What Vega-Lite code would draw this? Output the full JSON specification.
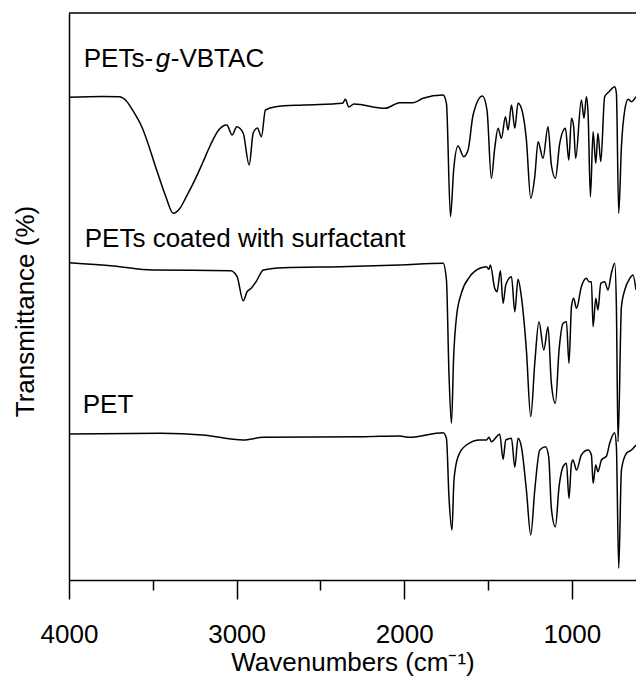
{
"$schema": "https://vega.github.io/schema/vega-lite/v6.json",
"width": 567, "height": 567,
"autosize": "none",
"padding": {"left": 69, "top": 13, "right": 0, "bottom": 97},
"config": {"view": {"stroke": null}, "font": "Liberation Sans"},
"datasets": {
"spectra": [
{"series":"PETs-g-VBTAC","wn":4000,"t":482.7},{"series":"PETs-g-VBTAC","wn":3800,"t":483.5},{"series":"PETs-g-VBTAC","wn":3699,"t":483.3},{"series":"PETs-g-VBTAC","wn":3663,"t":480},{"series":"PETs-g-VBTAC","wn":3615,"t":468.3},{"series":"PETs-g-VBTAC","wn":3566,"t":453.3},{"series":"PETs-g-VBTAC","wn":3471,"t":407},{"series":"PETs-g-VBTAC","wn":3422,"t":383.3},{"series":"PETs-g-VBTAC","wn":3378,"t":366.7},{"series":"PETs-g-VBTAC","wn":3337,"t":372},{"series":"PETs-g-VBTAC","wn":3300,"t":383.3},{"series":"PETs-g-VBTAC","wn":3254,"t":398.3},{"series":"PETs-g-VBTAC","wn":3203,"t":417},{"series":"PETs-g-VBTAC","wn":3156,"t":435},{"series":"PETs-g-VBTAC","wn":3107,"t":450},{"series":"PETs-g-VBTAC","wn":3059,"t":455},{"series":"PETs-g-VBTAC","wn":3026,"t":445},{"series":"PETs-g-VBTAC","wn":2999,"t":453.3},{"series":"PETs-g-VBTAC","wn":2961,"t":447},{"series":"PETs-g-VBTAC","wn":2925,"t":415},{"series":"PETs-g-VBTAC","wn":2901,"t":447},{"series":"PETs-g-VBTAC","wn":2876,"t":452},{"series":"PETs-g-VBTAC","wn":2852,"t":443.3},{"series":"PETs-g-VBTAC","wn":2828,"t":470},{"series":"PETs-g-VBTAC","wn":2767,"t":473.3},{"series":"PETs-g-VBTAC","wn":2600,"t":475},{"series":"PETs-g-VBTAC","wn":2368,"t":476.7},{"series":"PETs-g-VBTAC","wn":2351,"t":480.7},{"series":"PETs-g-VBTAC","wn":2331,"t":473},{"series":"PETs-g-VBTAC","wn":2300,"t":476},{"series":"PETs-g-VBTAC","wn":2114,"t":471.7},{"series":"PETs-g-VBTAC","wn":2027,"t":477.3},{"series":"PETs-g-VBTAC","wn":1947,"t":477.3},{"series":"PETs-g-VBTAC","wn":1888,"t":481.7},{"series":"PETs-g-VBTAC","wn":1768,"t":485},{"series":"PETs-g-VBTAC","wn":1748,"t":476.7},{"series":"PETs-g-VBTAC","wn":1724,"t":363.3},{"series":"PETs-g-VBTAC","wn":1705,"t":410},{"series":"PETs-g-VBTAC","wn":1679,"t":434},{"series":"PETs-g-VBTAC","wn":1645,"t":423.3},{"series":"PETs-g-VBTAC","wn":1619,"t":430},{"series":"PETs-g-VBTAC","wn":1589,"t":465},{"series":"PETs-g-VBTAC","wn":1533,"t":484},{"series":"PETs-g-VBTAC","wn":1506,"t":470},{"series":"PETs-g-VBTAC","wn":1480,"t":401.7},{"series":"PETs-g-VBTAC","wn":1460,"t":431.7},{"series":"PETs-g-VBTAC","wn":1440,"t":451.7},{"series":"PETs-g-VBTAC","wn":1420,"t":441.7},{"series":"PETs-g-VBTAC","wn":1396,"t":463.3},{"series":"PETs-g-VBTAC","wn":1380,"t":450},{"series":"PETs-g-VBTAC","wn":1360,"t":475},{"series":"PETs-g-VBTAC","wn":1340,"t":451.7},{"series":"PETs-g-VBTAC","wn":1321,"t":476.7},{"series":"PETs-g-VBTAC","wn":1301,"t":471.7},{"series":"PETs-g-VBTAC","wn":1271,"t":440},{"series":"PETs-g-VBTAC","wn":1245,"t":381.7},{"series":"PETs-g-VBTAC","wn":1221,"t":403.3},{"series":"PETs-g-VBTAC","wn":1201,"t":438.3},{"series":"PETs-g-VBTAC","wn":1172,"t":421.7},{"series":"PETs-g-VBTAC","wn":1142,"t":453.3},{"series":"PETs-g-VBTAC","wn":1122,"t":415},{"series":"PETs-g-VBTAC","wn":1098,"t":401.7},{"series":"PETs-g-VBTAC","wn":1072,"t":436.7},{"series":"PETs-g-VBTAC","wn":1038,"t":451.7},{"series":"PETs-g-VBTAC","wn":1018,"t":420},{"series":"PETs-g-VBTAC","wn":1002,"t":461.7},{"series":"PETs-g-VBTAC","wn":989,"t":453.3},{"series":"PETs-g-VBTAC","wn":977,"t":421.7},{"series":"PETs-g-VBTAC","wn":943,"t":480},{"series":"PETs-g-VBTAC","wn":927,"t":461.7},{"series":"PETs-g-VBTAC","wn":913,"t":483.3},{"series":"PETs-g-VBTAC","wn":903,"t":466.7},{"series":"PETs-g-VBTAC","wn":889,"t":383.3},{"series":"PETs-g-VBTAC","wn":873,"t":448.3},{"series":"PETs-g-VBTAC","wn":857,"t":416.7},{"series":"PETs-g-VBTAC","wn":844,"t":446.7},{"series":"PETs-g-VBTAC","wn":827,"t":418.3},{"series":"PETs-g-VBTAC","wn":804,"t":483.3},{"series":"PETs-g-VBTAC","wn":778,"t":488.3},{"series":"PETs-g-VBTAC","wn":744,"t":493.3},{"series":"PETs-g-VBTAC","wn":734,"t":486.7},{"series":"PETs-g-VBTAC","wn":720,"t":366.7},{"series":"PETs-g-VBTAC","wn":704,"t":433.3},{"series":"PETs-g-VBTAC","wn":684,"t":470},{"series":"PETs-g-VBTAC","wn":664,"t":480.7},{"series":"PETs-g-VBTAC","wn":644,"t":478.3},{"series":"PETs-g-VBTAC","wn":617,"t":483.3},
{"series":"surf","wn":4000,"t":317.3},{"series":"surf","wn":3734,"t":314},{"series":"surf","wn":3500,"t":310},{"series":"surf","wn":3035,"t":309.3},{"series":"surf","wn":2997,"t":303.3},{"series":"surf","wn":2961,"t":279.3},{"series":"surf","wn":2937,"t":288.3},{"series":"surf","wn":2913,"t":291.7},{"series":"surf","wn":2884,"t":298.3},{"series":"surf","wn":2840,"t":310},{"series":"surf","wn":2719,"t":312.3},{"series":"surf","wn":2380,"t":313.3},{"series":"surf","wn":2027,"t":315},{"series":"surf","wn":1768,"t":316.7},{"series":"surf","wn":1748,"t":300},{"series":"surf","wn":1733,"t":206.7},{"series":"surf","wn":1718,"t":156.7},{"series":"surf","wn":1705,"t":223.3},{"series":"surf","wn":1688,"t":263.3},{"series":"surf","wn":1659,"t":286.7},{"series":"surf","wn":1609,"t":303.3},{"series":"surf","wn":1549,"t":311.7},{"series":"surf","wn":1509,"t":313.3},{"series":"surf","wn":1494,"t":310.7},{"series":"surf","wn":1486,"t":315},{"series":"surf","wn":1460,"t":291.7},{"series":"surf","wn":1446,"t":288.3},{"series":"surf","wn":1426,"t":309.3},{"series":"surf","wn":1410,"t":276.7},{"series":"surf","wn":1394,"t":295},{"series":"surf","wn":1360,"t":303.3},{"series":"surf","wn":1340,"t":268.3},{"series":"surf","wn":1321,"t":300.7},{"series":"surf","wn":1301,"t":283.3},{"series":"surf","wn":1271,"t":230},{"series":"surf","wn":1245,"t":163.3},{"series":"surf","wn":1221,"t":216.7},{"series":"surf","wn":1196,"t":258.3},{"series":"surf","wn":1167,"t":230},{"series":"surf","wn":1142,"t":253.3},{"series":"surf","wn":1122,"t":196.7},{"series":"surf","wn":1098,"t":176.7},{"series":"surf","wn":1076,"t":230},{"series":"surf","wn":1052,"t":256.7},{"series":"surf","wn":1032,"t":258.3},{"series":"surf","wn":1017,"t":216.7},{"series":"surf","wn":1002,"t":273.3},{"series":"surf","wn":989,"t":281.7},{"series":"surf","wn":972,"t":271.7},{"series":"surf","wn":943,"t":293.3},{"series":"surf","wn":913,"t":301.7},{"series":"surf","wn":897,"t":298.3},{"series":"surf","wn":883,"t":298.3},{"series":"surf","wn":873,"t":253.3},{"series":"surf","wn":857,"t":281.7},{"series":"surf","wn":844,"t":270},{"series":"surf","wn":827,"t":296.7},{"series":"surf","wn":804,"t":298.3},{"series":"surf","wn":784,"t":290},{"series":"surf","wn":764,"t":306.7},{"series":"surf","wn":744,"t":316.7},{"series":"surf","wn":734,"t":273.3},{"series":"surf","wn":724,"t":138.3},{"series":"surf","wn":704,"t":273.3},{"series":"surf","wn":684,"t":290},{"series":"surf","wn":654,"t":301.7},{"series":"surf","wn":635,"t":305},{"series":"surf","wn":617,"t":290},
{"series":"PET","wn":4000,"t":146},{"series":"PET","wn":3449,"t":146.7},{"series":"PET","wn":3203,"t":145},{"series":"PET","wn":2961,"t":140},{"series":"PET","wn":2840,"t":142.7},{"series":"PET","wn":2236,"t":143.3},{"series":"PET","wn":2027,"t":144},{"series":"PET","wn":1967,"t":142.7},{"series":"PET","wn":1768,"t":147.3},{"series":"PET","wn":1748,"t":141.7},{"series":"PET","wn":1733,"t":83.3},{"series":"PET","wn":1715,"t":50},{"series":"PET","wn":1703,"t":100},{"series":"PET","wn":1679,"t":123.3},{"series":"PET","wn":1629,"t":135},{"series":"PET","wn":1549,"t":140},{"series":"PET","wn":1509,"t":140},{"series":"PET","wn":1494,"t":142.7},{"series":"PET","wn":1480,"t":138.3},{"series":"PET","wn":1430,"t":145.7},{"series":"PET","wn":1410,"t":120.7},{"series":"PET","wn":1394,"t":140},{"series":"PET","wn":1360,"t":141.7},{"series":"PET","wn":1340,"t":112.7},{"series":"PET","wn":1321,"t":141.7},{"series":"PET","wn":1301,"t":133.3},{"series":"PET","wn":1271,"t":90},{"series":"PET","wn":1245,"t":45},{"series":"PET","wn":1221,"t":90},{"series":"PET","wn":1191,"t":130},{"series":"PET","wn":1157,"t":133.3},{"series":"PET","wn":1138,"t":123.3},{"series":"PET","wn":1122,"t":71.7},{"series":"PET","wn":1098,"t":53.3},{"series":"PET","wn":1076,"t":93.3},{"series":"PET","wn":1052,"t":113.3},{"series":"PET","wn":1032,"t":116.7},{"series":"PET","wn":1017,"t":81.7},{"series":"PET","wn":1002,"t":116.7},{"series":"PET","wn":993,"t":120},{"series":"PET","wn":972,"t":110},{"series":"PET","wn":943,"t":125},{"series":"PET","wn":903,"t":130},{"series":"PET","wn":883,"t":125},{"series":"PET","wn":873,"t":96.7},{"series":"PET","wn":857,"t":115},{"series":"PET","wn":844,"t":108.3},{"series":"PET","wn":823,"t":120},{"series":"PET","wn":793,"t":124},{"series":"PET","wn":774,"t":136.7},{"series":"PET","wn":744,"t":147.3},{"series":"PET","wn":734,"t":133.3},{"series":"PET","wn":720,"t":11.7},{"series":"PET","wn":704,"t":110},{"series":"PET","wn":674,"t":126.7},{"series":"PET","wn":644,"t":130},{"series":"PET","wn":617,"t":135}
]
},
"layer": [
{
"data": {"name": "spectra"},
"mark": {"type": "line", "color": "black", "strokeWidth": 1.5, "clip": true, "interpolate": "monotone"},
"encoding": {
"x": {"field": "wn", "type": "quantitative", "scale": {"domain": [4000, 617], "nice": false, "zero": false},
"axis": {"values": [4000, 3500, 3000, 2500, 2000, 1500, 1000], "format": "d",
"labelExpr": "datum.value % 1000 === 0 ? datum.label : ''",
"tickSize": {"condition": {"test": "datum.value % 1000 === 0", "value": 19}, "value": 10},
"tickColor": "black", "tickWidth": 1.5, "domainColor": "black", "domainWidth": 1.5,
"labelFontSize": 26, "labelColor": "black", "labelBaseline": "alphabetic", "labelPadding": 43, "labelFlush": false, "labelOverlap": false,
"grid": false, "title": "Wavenumbers (cm⁻¹)", "titleFontSize": 26, "titleFontWeight": "normal", "titleColor": "black",
"titleBaseline": "alphabetic", "titleY": 90}},
"y": {"field": "t", "type": "quantitative", "scale": {"domain": [0, 567], "nice": false, "zero": false},
"axis": {"ticks": false, "labels": false, "grid": false, "domainColor": "black", "domainWidth": 1.5,
"title": "Transmittance (%)", "titleFontSize": 26, "titleFontWeight": "normal", "titleColor": "black",
"titleBaseline": "alphabetic", "titleX": -36, "titleY": 298}},
"detail": {"field": "series"}
}
},
{
"data": {"values": [{}]},
"mark": {"type": "rule", "color": "black", "strokeWidth": 1.5},
"encoding": {"y": {"datum": 567}}
},
{
"data": {"values": [{"label": "PETs-"}]},
"mark": {"type": "text", "fontSize": 26, "align": "left", "baseline": "alphabetic", "color": "black"},
"encoding": {"text": {"field": "label"}, "x": {"datum": 3912}, "y": {"datum": 513}}
},
{
"data": {"values": [{"label": "g"}]},
"mark": {"type": "text", "fontSize": 26, "fontStyle": "italic", "align": "left", "baseline": "alphabetic", "color": "black", "dx": 72},
"encoding": {"text": {"field": "label"}, "x": {"datum": 3912}, "y": {"datum": 513}}
},
{
"data": {"values": [{"label": "-VBTAC"}]},
"mark": {"type": "text", "fontSize": 26, "align": "left", "baseline": "alphabetic", "color": "black", "dx": 87},
"encoding": {"text": {"field": "label"}, "x": {"datum": 3912}, "y": {"datum": 513}}
},
{
"data": {"values": [{"label": "PETs coated with surfactant"}]},
"mark": {"type": "text", "fontSize": 26, "align": "left", "baseline": "alphabetic", "color": "black"},
"encoding": {"text": {"field": "label"}, "x": {"datum": 3906}, "y": {"datum": 333}}
},
{
"data": {"values": [{"label": "PET"}]},
"mark": {"type": "text", "fontSize": 26, "align": "left", "baseline": "alphabetic", "color": "black"},
"encoding": {"text": {"field": "label"}, "x": {"datum": 3918}, "y": {"datum": 167}}
}
]
}
